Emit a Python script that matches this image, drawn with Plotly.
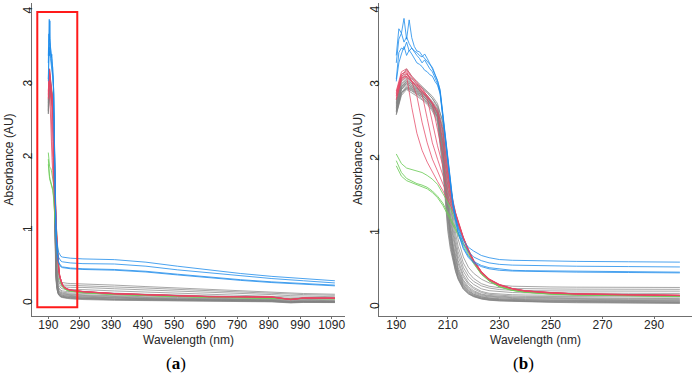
import plotly.graph_objects as go

# ---------------- data ----------------
# common wavelength grid (nm) for gray / red / green spectra
WL = [190,192,194,196,198,200,202,204,206,208,209,210,211,212,213,214,216,218,220,223,226,230,235,240,
      250,260,280,300,400,500,600,650,700,800,900,960,1000,1100]

gray_01 = [2.70,3.05,3.12,3.05,3.00,2.96,2.90,2.82,2.72,2.52,2.28,1.95,1.60,1.33,1.10,0.92,0.68,0.54,0.46,0.38,0.33,0.30,0.285,0.28,0.275,0.272,0.27,0.268,0.25,0.23,0.21,0.20,0.19,0.17,0.155,0.14,0.135,0.125]
gray_02 = [2.75,3.10,3.22,3.12,3.05,2.98,2.92,2.85,2.75,2.50,2.22,1.88,1.52,1.24,1.00,0.82,0.60,0.47,0.39,0.32,0.285,0.265,0.255,0.25,0.248,0.246,0.245,0.243,0.225,0.21,0.19,0.18,0.17,0.155,0.14,0.125,0.12,0.11]
gray_03 = [2.80,3.08,3.15,3.08,3.02,2.97,2.90,2.82,2.70,2.44,2.12,1.76,1.42,1.14,0.92,0.75,0.54,0.42,0.35,0.29,0.26,0.24,0.23,0.225,0.222,0.22,0.22,0.218,0.20,0.185,0.17,0.16,0.15,0.135,0.12,0.105,0.10,0.09]
gray_04 = [2.68,2.98,3.06,3.02,2.96,2.90,2.84,2.76,2.66,2.40,2.06,1.68,1.34,1.06,0.85,0.69,0.49,0.37,0.31,0.25,0.225,0.21,0.20,0.195,0.192,0.19,0.19,0.188,0.17,0.155,0.14,0.135,0.125,0.11,0.10,0.085,0.08,0.075]
gray_05 = [2.76,3.02,3.10,3.04,2.99,2.93,2.86,2.78,2.68,2.36,2.00,1.60,1.26,0.99,0.79,0.63,0.44,0.33,0.27,0.215,0.19,0.178,0.17,0.166,0.163,0.162,0.16,0.158,0.14,0.125,0.115,0.11,0.10,0.09,0.08,0.065,0.065,0.06]
gray_06 = [2.64,2.94,3.02,2.98,2.93,2.88,2.82,2.74,2.64,2.32,1.94,1.54,1.20,0.94,0.74,0.59,0.41,0.31,0.25,0.20,0.175,0.162,0.153,0.148,0.145,0.143,0.141,0.138,0.12,0.105,0.095,0.09,0.085,0.075,0.065,0.05,0.05,0.045]
gray_07 = [2.72,2.98,3.05,3.00,2.95,2.90,2.83,2.75,2.63,2.26,1.86,1.46,1.12,0.87,0.68,0.54,0.37,0.28,0.225,0.18,0.16,0.148,0.14,0.135,0.13,0.126,0.122,0.118,0.10,0.09,0.08,0.075,0.07,0.06,0.055,0.04,0.04,0.035]
gray_08 = [2.60,2.90,2.98,2.95,2.90,2.86,2.80,2.72,2.61,2.22,1.80,1.40,1.07,0.83,0.65,0.51,0.35,0.26,0.21,0.17,0.15,0.138,0.13,0.125,0.12,0.116,0.112,0.108,0.09,0.08,0.07,0.065,0.06,0.055,0.05,0.035,0.035,0.03]
gray_09 = [2.66,2.96,3.04,2.99,2.94,2.89,2.82,2.73,2.60,2.18,1.76,1.36,1.04,0.80,0.62,0.49,0.33,0.245,0.195,0.158,0.14,0.128,0.12,0.115,0.11,0.106,0.102,0.098,0.082,0.072,0.063,0.06,0.055,0.05,0.045,0.03,0.03,0.028]
gray_10 = [2.78,3.00,3.08,3.02,2.96,2.91,2.84,2.75,2.62,2.16,1.72,1.32,1.00,0.77,0.60,0.47,0.31,0.23,0.18,0.145,0.128,0.117,0.11,0.105,0.10,0.096,0.092,0.088,0.074,0.065,0.057,0.055,0.05,0.045,0.04,0.025,0.027,0.024]
gray_11 = [2.62,2.88,2.96,2.93,2.88,2.84,2.78,2.70,2.58,2.12,1.68,1.28,0.97,0.74,0.57,0.45,0.30,0.22,0.175,0.14,0.122,0.112,0.105,0.10,0.095,0.091,0.087,0.083,0.07,0.06,0.053,0.05,0.047,0.042,0.037,0.022,0.025,0.022]
gray_12 = [2.70,2.94,3.00,2.96,2.91,2.86,2.80,2.71,2.58,2.08,1.62,1.22,0.93,0.71,0.55,0.43,0.285,0.21,0.165,0.132,0.115,0.104,0.097,0.092,0.087,0.083,0.078,0.074,0.062,0.054,0.047,0.045,0.042,0.037,0.033,0.018,0.022,0.02]
gray_13 = [2.64,2.90,2.97,2.94,2.89,2.84,2.77,2.68,2.56,2.04,1.58,1.18,0.89,0.68,0.53,0.41,0.27,0.20,0.158,0.126,0.11,0.099,0.092,0.087,0.082,0.078,0.073,0.069,0.057,0.05,0.044,0.042,0.039,0.034,0.03,0.015,0.02,0.018]
gray_14 = [2.74,2.96,3.02,2.97,2.92,2.87,2.80,2.70,2.56,2.00,1.54,1.14,0.86,0.66,0.51,0.40,0.26,0.19,0.152,0.12,0.104,0.094,0.087,0.082,0.077,0.073,0.068,0.064,0.053,0.046,0.04,0.038,0.036,0.031,0.027,0.012,0.018,0.016]
gray_15 = [2.66,2.90,2.95,2.92,2.87,2.82,2.76,2.67,2.53,1.94,1.48,1.08,0.82,0.63,0.49,0.385,0.25,0.185,0.148,0.116,0.10,0.09,0.083,0.078,0.072,0.068,0.063,0.059,0.048,0.042,0.037,0.035,0.033,0.028,0.024,0.01,0.016,0.014]
gray_16 = [2.60,2.86,2.94,2.90,2.85,2.80,2.74,2.65,2.50,1.88,1.42,1.02,0.78,0.61,0.48,0.375,0.245,0.18,0.143,0.112,0.096,0.086,0.079,0.073,0.067,0.062,0.057,0.052,0.042,0.036,0.031,0.03,0.028,0.024,0.02,0.005,0.012,0.01]

red_1 = [2.85,3.10,3.12,2.70,2.35,2.12,1.96,1.82,1.70,1.58,1.52,1.45,1.38,1.30,1.22,1.12,0.92,0.75,0.61,0.46,0.37,0.295,0.245,0.215,0.19,0.178,0.166,0.158,0.13,0.115,0.10,0.095,0.09,0.09,0.085,0.05,0.07,0.07]
red_2 = [2.90,3.15,3.18,3.05,2.85,2.50,2.22,2.00,1.84,1.68,1.60,1.52,1.44,1.34,1.24,1.13,0.93,0.76,0.62,0.47,0.375,0.30,0.25,0.22,0.195,0.18,0.168,0.16,0.132,0.117,0.102,0.097,0.092,0.09,0.086,0.052,0.072,0.071]
red_3 = [2.80,3.08,3.15,3.05,2.98,2.88,2.55,2.22,2.00,1.80,1.70,1.60,1.48,1.36,1.25,1.14,0.93,0.76,0.62,0.47,0.375,0.30,0.25,0.22,0.195,0.18,0.168,0.16,0.13,0.115,0.10,0.095,0.09,0.088,0.084,0.05,0.07,0.069]
red_4 = [2.88,3.14,3.20,3.10,3.02,2.92,2.82,2.50,2.18,1.92,1.80,1.66,1.52,1.38,1.26,1.15,0.94,0.77,0.63,0.48,0.38,0.305,0.252,0.222,0.196,0.182,0.17,0.162,0.134,0.118,0.103,0.098,0.093,0.091,0.087,0.055,0.073,0.072]
red_5 = [2.92,3.18,3.22,3.12,3.04,2.96,2.85,2.74,2.40,2.05,1.88,1.72,1.56,1.40,1.27,1.15,0.94,0.77,0.63,0.48,0.38,0.305,0.252,0.222,0.196,0.182,0.17,0.162,0.133,0.117,0.102,0.097,0.092,0.09,0.086,0.052,0.072,0.071]
red_6 = [2.86,3.12,3.16,3.06,3.00,2.94,2.86,2.76,2.62,2.25,2.00,1.80,1.60,1.42,1.28,1.16,0.95,0.78,0.64,0.485,0.385,0.31,0.255,0.225,0.198,0.184,0.172,0.164,0.135,0.12,0.105,0.10,0.095,0.093,0.088,0.056,0.074,0.073]
red_7 = [2.82,3.06,3.12,3.04,2.98,2.92,2.85,2.76,2.66,2.40,2.10,1.85,1.62,1.42,1.27,1.15,0.94,0.77,0.63,0.48,0.38,0.305,0.252,0.222,0.196,0.182,0.17,0.162,0.134,0.118,0.103,0.098,0.093,0.091,0.087,0.054,0.073,0.072]

green_1 = [2.07,1.94,1.88,1.86,1.85,1.82,1.78,1.73,1.66,1.55,1.48,1.41,1.33,1.25,1.17,1.09,0.92,0.76,0.62,0.46,0.36,0.28,0.23,0.205,0.18,0.17,0.16,0.15,0.125,0.11,0.095,0.09,0.085,0.08,0.075,0.06,0.07,0.065]
green_2 = [1.98,1.82,1.74,1.70,1.67,1.65,1.62,1.57,1.50,1.41,1.35,1.28,1.21,1.14,1.07,1.00,0.86,0.72,0.60,0.45,0.36,0.28,0.23,0.205,0.18,0.168,0.158,0.148,0.122,0.108,0.093,0.088,0.083,0.078,0.073,0.058,0.068,0.063]
green_3 = [1.91,1.77,1.71,1.68,1.65,1.63,1.60,1.55,1.48,1.38,1.32,1.25,1.18,1.11,1.04,0.98,0.85,0.71,0.59,0.445,0.355,0.275,0.228,0.203,0.178,0.166,0.156,0.146,0.12,0.106,0.091,0.086,0.081,0.076,0.071,0.056,0.066,0.061]

# finer wavelength grid for the noisy blue spectra
WL_BLUE = [190,191,192,193,194,195,196,197,198,199,200,201,202,203,204,205,206,207,208,209,210,211,212,213,214,
           216,218,220,223,226,230,235,240,250,260,280,300,400,500,600,650,700,800,900,1000,1100]

blue_1 = [3.40,3.76,3.70,3.90,3.62,3.88,3.64,3.52,3.46,3.45,3.40,3.36,3.32,3.27,3.24,3.15,3.06,2.92,2.62,2.28,1.94,1.64,1.40,1.22,1.08,0.90,0.81,0.76,0.70,0.67,0.645,0.635,0.63,0.625,0.62,0.615,0.61,0.60,0.565,0.51,0.485,0.45,0.41,0.37,0.335,0.31]
blue_2 = [3.30,3.62,3.70,3.58,3.65,3.56,3.50,3.46,3.44,3.40,3.38,3.42,3.36,3.30,3.22,3.14,3.06,2.94,2.64,2.30,1.96,1.66,1.42,1.22,1.06,0.86,0.75,0.68,0.63,0.60,0.58,0.57,0.565,0.56,0.555,0.55,0.545,0.54,0.51,0.46,0.44,0.41,0.37,0.34,0.31,0.28]
blue_3 = [3.08,3.44,3.50,3.48,3.58,3.46,3.50,3.44,3.40,3.36,3.30,3.34,3.28,3.22,3.18,3.10,3.02,2.90,2.60,2.26,1.92,1.62,1.38,1.18,1.02,0.81,0.69,0.62,0.565,0.535,0.515,0.50,0.495,0.49,0.485,0.48,0.475,0.465,0.44,0.40,0.38,0.355,0.325,0.295,0.27,0.25]
blue_4 = [3.05,3.30,3.42,3.52,3.40,3.47,3.42,3.36,3.30,3.28,3.25,3.20,3.18,3.14,3.12,3.05,3.00,2.88,2.58,2.24,1.90,1.60,1.36,1.16,1.00,0.79,0.67,0.60,0.55,0.52,0.50,0.49,0.485,0.48,0.475,0.47,0.465,0.455,0.43,0.39,0.37,0.345,0.315,0.285,0.26,0.24]

ticks_left = [190,290,390,490,590,690,790,890,990,1090]
ticks_right = [190,210,230,250,270,290]
ticks_y = [0,1,2,3,4]
highlight_box = dict(x0=155, x1=282, y0=-0.055, y1=4.0)

# ---------------- styling ----------------
GRAY = "rgba(130,130,130,0.7)"
GREEN = "rgba(110,205,90,0.85)"
RED = "rgba(228,70,100,0.75)"
BLUE = "rgba(30,140,235,0.8)"

groups = [
    (GRAY, WL, [gray_01, gray_02, gray_03, gray_04, gray_05, gray_06, gray_07, gray_08,
                gray_09, gray_10, gray_11, gray_12, gray_13, gray_14, gray_15, gray_16]),
    (GREEN, WL, [green_1, green_2, green_3]),
    (RED, WL, [red_1, red_2, red_3, red_4, red_5, red_6, red_7]),
    (BLUE, WL_BLUE, [blue_1, blue_2, blue_3, blue_4]),
]

fig = go.Figure()
for color, wl, series in groups:
    for s in series:
        fig.add_trace(go.Scatter(x=wl, y=s, mode="lines", line=dict(color=color, width=1),
                                 xaxis="x", yaxis="y", showlegend=False, hoverinfo="skip"))
        xs = [w for w in wl if w <= 300]
        ys = [v for w, v in zip(wl, s) if w <= 300]
        fig.add_trace(go.Scatter(x=xs, y=ys, mode="lines", line=dict(color=color, width=1),
                                 xaxis="x2", yaxis="y2", showlegend=False, hoverinfo="skip"))

TICKFONT = dict(family="Liberation Sans, Arial, sans-serif", size=12, color="#262626")
AXCOL = "#6f6f6f"

common_x = dict(showline=True, linecolor=AXCOL, linewidth=1, showgrid=False, zeroline=False,
                ticks="outside", ticklen=2, tickcolor=AXCOL, tickfont=TICKFONT, mirror=False,
                ticklabelstandoff=-4)
common_y = dict(showline=True, linecolor=AXCOL, linewidth=1, showgrid=False, zeroline=False,
                ticks="outside", ticklen=3, tickcolor=AXCOL, tickfont=TICKFONT, tickangle=-90,
                tickvals=ticks_y, mirror=False, ticklabelstandoff=-9)

W, H = 696, 378
fig.update_layout(
    width=W, height=H, margin=dict(l=0, r=0, t=0, b=0),
    paper_bgcolor="white", plot_bgcolor="white",
    xaxis=dict(domain=[32 / W, 345 / W], range=[138.2, 1132.2], tickvals=ticks_left,
               anchor="y", **common_x),
    yaxis=dict(domain=[1 - 316 / H, 1 - 3 / H], range=[-0.174, 4.124], anchor="x", **common_y),
    xaxis2=dict(domain=[379 / W, 692 / W], range=[183.3, 304.7], tickvals=ticks_right,
                anchor="y2", **common_x),
    yaxis2=dict(domain=[1 - 316 / H, 1 - 3 / H], range=[-0.117, 4.108], anchor="x2", **common_y),
    shapes=[dict(type="rect", xref="x", yref="y", line=dict(color="#ff1a1a", width=2),
                 fillcolor="rgba(0,0,0,0)", **highlight_box)],
)

TITLEFONT = dict(family="Liberation Sans, Arial, sans-serif", size=12, color="#262626")
LABELFONT = dict(family="Liberation Serif, Times New Roman, serif", size=17, color="black")
ann = [
    dict(text="Absorbance (AU)", x=8 / W, y=1 - 159.5 / H, textangle=-90, font=TITLEFONT),
    dict(text="Absorbance (AU)", x=357.5 / W, y=1 - 159.5 / H, textangle=-90, font=TITLEFONT),
    dict(text="Wavelength (nm)", x=188.5 / W, y=1 - 339.5 / H, font=TITLEFONT),
    dict(text="Wavelength (nm)", x=535.5 / W, y=1 - 339.5 / H, font=TITLEFONT),
    dict(text="(<b>a</b>)", x=176 / W, y=1 - 363 / H, font=LABELFONT),
    dict(text="(<b>b</b>)", x=523 / W, y=1 - 363 / H, font=LABELFONT),
]
for a in ann:
    fig.add_annotation(xref="paper", yref="paper", xanchor="center", yanchor="middle",
                       showarrow=False, **a)

fig.write_html("out.html")
